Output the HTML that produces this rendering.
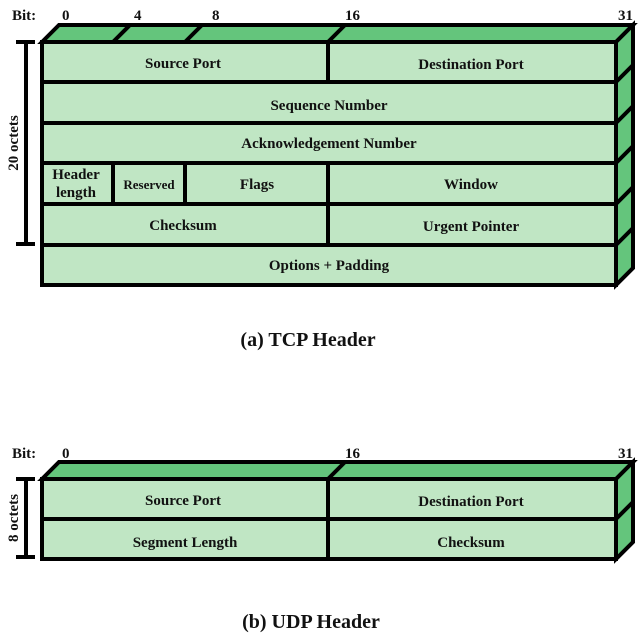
<!DOCTYPE html>
<html><head><meta charset="utf-8"><style>
html,body{margin:0;padding:0;background:#fff;}
svg{display:block;}
text{font-family:"Liberation Serif",serif;font-weight:bold;fill:#111;}
</style></head><body>
<svg width="644" height="639" viewBox="0 0 644 639" xmlns="http://www.w3.org/2000/svg">
<g stroke="#000" stroke-width="4" stroke-linejoin="miter">
<!-- TCP -->
<polygon points="42,42 59,25 633,25 616,42" fill="#64c57c"/>
<polygon points="616,42 633,25 633,268 616,285" fill="#64c57c"/>
<rect x="42" y="42" width="574" height="243" fill="#c0e6c4"/>
<line x1="42" y1="82" x2="616" y2="82"/>
<line x1="42" y1="123" x2="616" y2="123"/>
<line x1="42" y1="163" x2="616" y2="163"/>
<line x1="42" y1="204" x2="616" y2="204"/>
<line x1="42" y1="245" x2="616" y2="245"/>
<line x1="328" y1="42" x2="328" y2="82"/>
<line x1="328" y1="163" x2="328" y2="245"/>
<line x1="113" y1="163" x2="113" y2="204"/>
<line x1="185" y1="163" x2="185" y2="204"/>
<line x1="113" y1="42" x2="130" y2="25"/>
<line x1="185" y1="42" x2="202" y2="25"/>
<line x1="328" y1="42" x2="345" y2="25"/>
<line x1="616" y1="82" x2="633" y2="65"/>
<line x1="616" y1="123" x2="633" y2="106"/>
<line x1="616" y1="163" x2="633" y2="146"/>
<line x1="616" y1="204" x2="633" y2="187"/>
<line x1="616" y1="245" x2="633" y2="228"/>
<line x1="26" y1="42" x2="26" y2="244"/>
<line x1="16" y1="42" x2="35" y2="42"/>
<line x1="16" y1="244" x2="35" y2="244"/>
<!-- UDP -->
<polygon points="42,479 59,462 633,462 616,479" fill="#64c57c"/>
<polygon points="616,479 633,462 633,542 616,559" fill="#64c57c"/>
<rect x="42" y="479" width="574" height="80" fill="#c0e6c4"/>
<line x1="42" y1="519" x2="616" y2="519"/>
<line x1="328" y1="479" x2="328" y2="559"/>
<line x1="328" y1="479" x2="345" y2="462"/>
<line x1="616" y1="519" x2="633" y2="502"/>
<line x1="26" y1="479" x2="26" y2="557"/>
<line x1="16" y1="479" x2="35" y2="479"/>
<line x1="16" y1="557" x2="35" y2="557"/>
</g>
<g font-size="15">
<text x="12" y="20">Bit:</text>
<text x="62" y="20">0</text>
<text x="134" y="20">4</text>
<text x="212" y="20">8</text>
<text x="345" y="20">16</text>
<text x="618" y="20">31</text>
<g text-anchor="middle">
<text x="183" y="68">Source Port</text>
<text x="471" y="69">Destination Port</text>
<text x="329" y="110">Sequence Number</text>
<text x="329" y="148">Acknowledgement Number</text>
<text x="76" y="179">Header</text>
<text x="76" y="197">length</text>
<text x="149" y="189" font-size="13">Reserved</text>
<text x="257" y="189">Flags</text>
<text x="471" y="189">Window</text>
<text x="183" y="230">Checksum</text>
<text x="471" y="231">Urgent Pointer</text>
<text x="329" y="270">Options + Padding</text>
<text x="13" y="143" transform="rotate(-90 13 143)" dy="5">20 octets</text>
</g>
<text x="12" y="458">Bit:</text>
<text x="62" y="458">0</text>
<text x="345" y="458">16</text>
<text x="618" y="458">31</text>
<g text-anchor="middle">
<text x="183" y="505">Source Port</text>
<text x="471" y="506">Destination Port</text>
<text x="185" y="547">Segment Length</text>
<text x="471" y="547">Checksum</text>
<text x="13" y="518" transform="rotate(-90 13 518)" dy="5">8 octets</text>
</g>
</g>
<g font-size="20" text-anchor="middle">
<text x="308" y="346">(a) TCP Header</text>
<text x="311" y="628">(b) UDP Header</text>
</g>
</svg>
</body></html>
